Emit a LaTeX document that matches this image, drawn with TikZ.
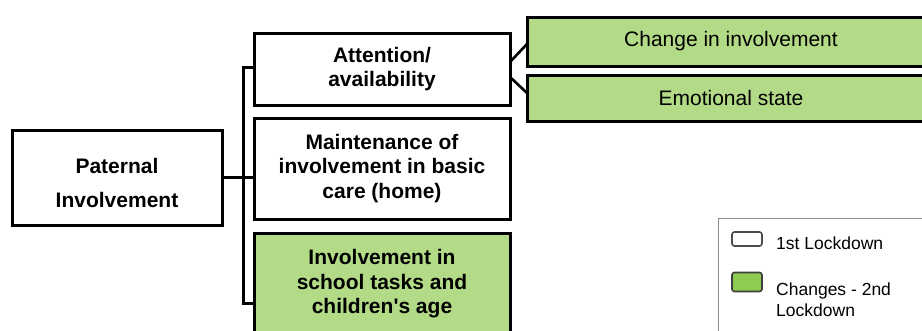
\documentclass[tikz,border=0pt]{standalone}
\usepackage{fontspec}
\setmainfont{Liberation Sans}
\definecolor{boxgreen}{HTML}{B3DB87}
\definecolor{swatchgreen}{HTML}{8DCB52}
\definecolor{legendgray}{HTML}{8C8C8C}
\begin{document}
\begin{tikzpicture}[x=1pt,y=-1pt,
  box/.style={draw=black, line width=3pt, inner sep=0pt, outer sep=0pt,
    align=center, font=\bfseries\fontsize{21}{24.5}\selectfont},
  greenbox/.style={box, fill=boxgreen},
  subbox/.style={draw=black, line width=3pt, fill=boxgreen, inner sep=0pt,
    outer sep=0pt, minimum width=408pt, font=\fontsize{21}{24}\selectfont},
  link/.style={line width=3pt, line cap=rect},
  swatch/.style={draw=#1, line width=1.6pt, rounded corners=2.5pt,
    minimum width=30pt, minimum height=14pt, inner sep=0pt},
  legtext/.style={anchor=west, align=left, inner sep=0pt,
    font=\fontsize{17.5}{21}\selectfont}]
  \useasboundingbox (0,0) rectangle (922,330);

  % root of the tree
  \node[box, minimum width=210pt, minimum height=95pt] (pat) at (117,177.5) {};
  \node[font=\bfseries\fontsize{21}{34}\selectfont, align=center] (patlabel)
    at (117,183) {Paternal\\Involvement};

  % first-level categories
  \node[box, minimum width=256pt, minimum height=72pt] (att) at (382,69)
    {Attention/\\availability};
  \node[box, minimum width=256pt, minimum height=101pt] (main) at (382,168.5)
    {Maintenance of\\involvement in basic\\care (home)};
  \node[greenbox, minimum width=256pt, minimum height=102pt] (sch) at (382,284)
    {Involvement in\\school tasks and\\children\textquotesingle s age};

  % subcategories of attention/availability
  \node[subbox, minimum height=49pt] (chg) at (731,41.5) {Change in involvement};
  \node[subbox, minimum height=46pt] (emo) at (731,98) {Emotional state};

  % tree connectors
  \coordinate (bt) at (243,67);
  \coordinate (bb) at (243,303);
  \draw[link] (pat.east) -- (main.west |- pat.east);
  \draw[link] (att.west |- bt) -- (bt) -- (bb) -- (sch.west |- bb);
  \coordinate (fa) at (510,62);
  \coordinate (fb) at (510,77);
  \draw[line width=2.6pt] (fa) -- (chg.west |- 0,44);
  \draw[line width=2.6pt] (fb) -- (emo.west |- 0,93);

  % legend
  \node[draw=legendgray, line width=1pt, minimum width=220pt, minimum height=130pt,
    anchor=north west, inner sep=0pt] (legend) at (718,218) {};
  \node[swatch=black!70, fill=white] (sw1) at (747,239) {};
  \node[swatch=black!75, fill=swatchgreen, minimum height=19pt] (sw2) at (747,282) {};
  \node[legtext] (lt1) at (776,243) {1st Lockdown};
  \node[legtext] (lt2) at (776,300) {Changes - 2nd\\Lockdown};
\end{tikzpicture}
\end{document}
